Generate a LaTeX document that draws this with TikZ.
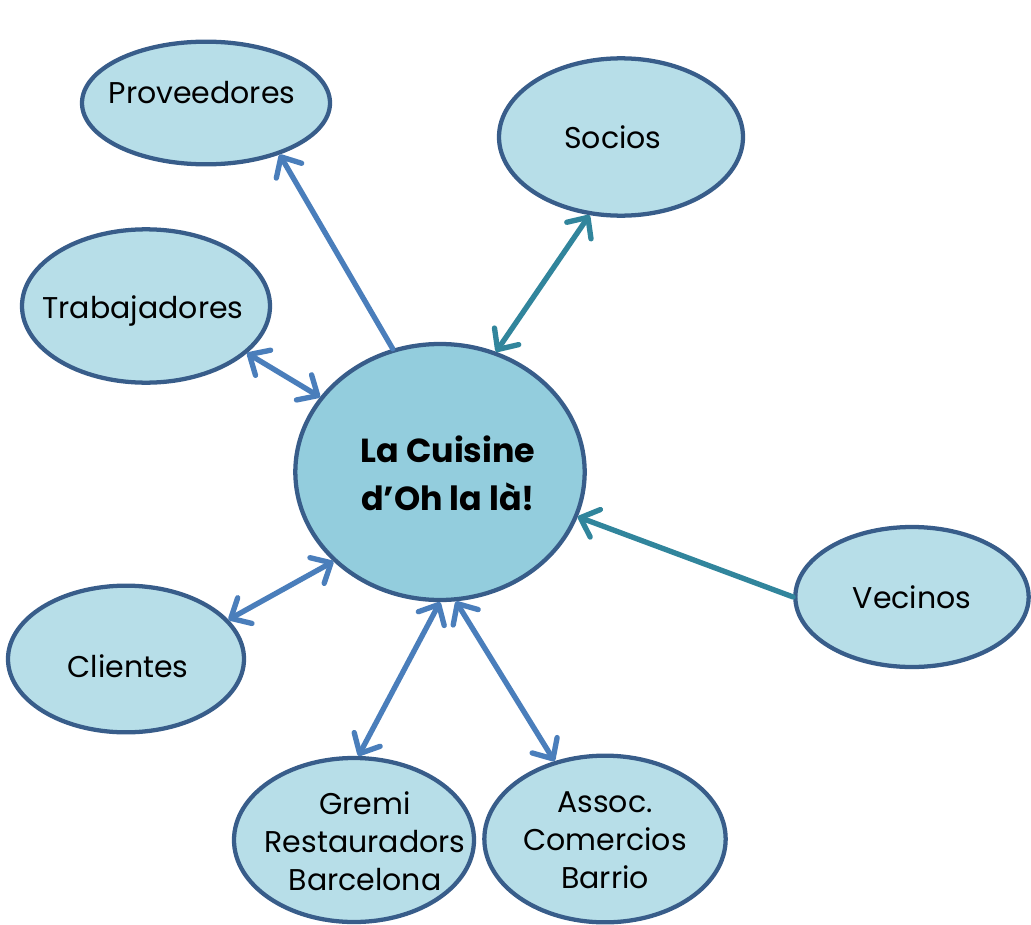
\documentclass[tikz,border=0pt]{standalone}
\usepackage{fontspec}
\setmainfont{Poppins}
\usetikzlibrary{shapes.geometric,arrows.meta}
\definecolor{fillA}{HTML}{B7DEE8}
\definecolor{fillC}{HTML}{93CDDD}
\definecolor{edgeD}{HTML}{385D8A}
\definecolor{arrB}{HTML}{4A7EBB}
\definecolor{arrT}{HTML}{31859C}
\tikzset{
  bub/.style={ellipse, draw=edgeD, fill=fillA, line width=3.2pt, inner sep=0pt},
  txt/.style={align=center, inner sep=0pt, font=\fontsize{22.5}{28.5}\selectfont},
  barb/.tip={Straight Barb[length=12pt,width=22pt,line width=4pt,round]},
  lnk/.style={line width=4pt, line cap=round, draw=arrB, barb-barb},
  one/.style={line width=4pt, line cap=round, draw=arrB, -barb},
}
\begin{document}
\begin{tikzpicture}[x=0.75pt,y=-0.75pt]
\useasboundingbox (0,0) rectangle (1031,924);
\node[bub, minimum width=186pt, minimum height=92pt,
  label={[txt, shift={(-4,-10)}]center:Proveedores}] (prov) at (206,103) {};
\node[bub, minimum width=183pt, minimum height=118pt,
  label={[txt, shift={(-8,0)}]center:Socios}] (soc) at (621,137) {};
\node[bub, minimum width=186pt, minimum height=115pt,
  label={[txt, shift={(-3,5)}]center:Trabajadores}] (trab) at (146,306) {};
\node[bub, fill=fillC, minimum width=217pt, minimum height=192pt,
  label={[txt, shift={(8,1)}, font=\fontsize{25}{36}\selectfont\bfseries]center:La Cuisine\\d’Oh la là!}] (cen) at (440,472) {};
\node[bub, minimum width=175pt, minimum height=105pt,
  label={[txt]center:Vecinos}] (vec) at (912,597) {};
\node[bub, minimum width=177pt, minimum height=110pt,
  label={[txt, shift={(2,7)}]center:Clientes}] (cli) at (126,659) {};
\node[bub, minimum width=180pt, minimum height=123pt,
  label={[txt, shift={(11,1)}]center:Gremi\\Restauradors\\Barcelona}] (gre) at (354,840) {};
\node[bub, minimum width=181pt, minimum height=125pt,
  label={[txt, shift={(0,1)}]center:Assoc.\\Comercios\\Barrio}] (ass) at (605,839) {};

\draw[one] (cen.111) -- (prov.-35);
\draw[lnk, draw=arrT] (cen.65) -- (soc.248);
\draw[lnk] (trab.-25) -- (cen.148);
\draw[one, draw=arrT] (vec.180) -- (cen.-18);
\draw[lnk] (cli.21) -- (cen.220);
\draw[lnk] (gre.87) -- (cen.270);
\draw[lnk] (ass.123) -- (cen.277);
\end{tikzpicture}
\end{document}
